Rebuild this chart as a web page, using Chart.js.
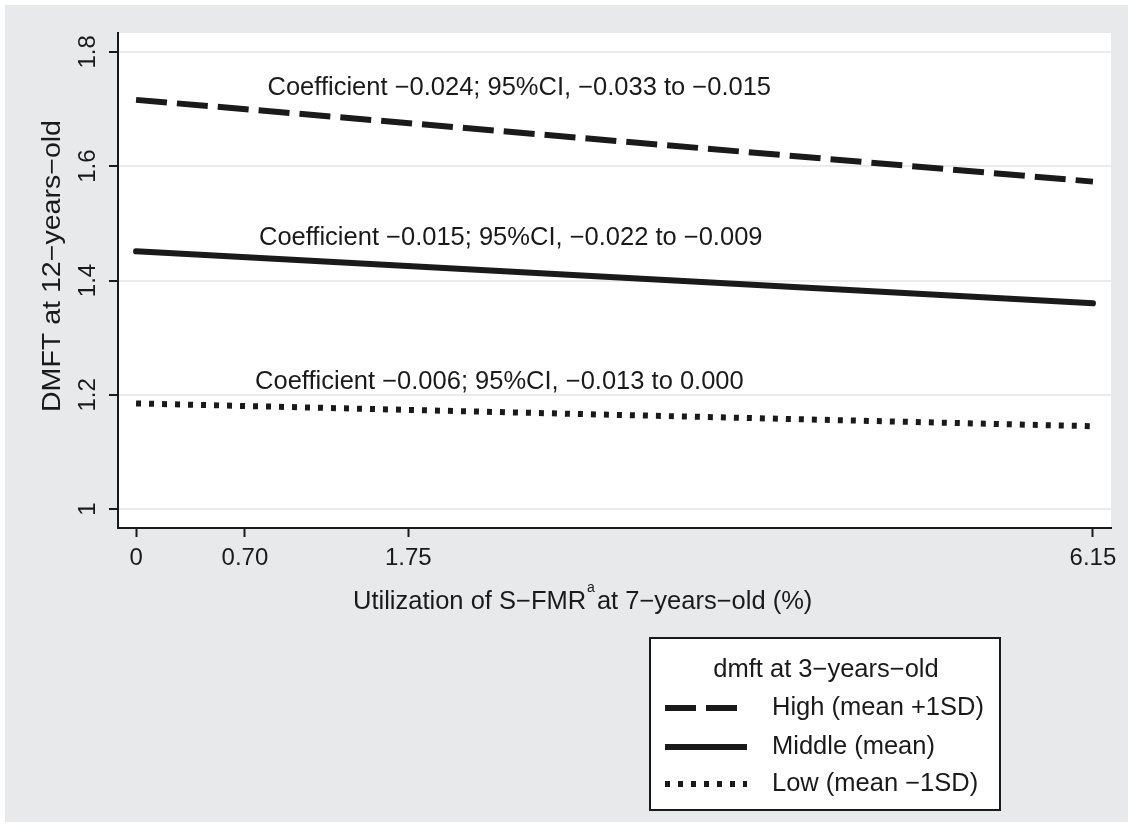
<!DOCTYPE html>
<html>
<head>
<meta charset="utf-8">
<script src="https://cdn.jsdelivr.net/npm/chart.js@4"></script>
<style>
  html, body { margin: 0; padding: 0; background: #fff; }
  canvas { display: block; }
</style>
</head>
<body>
<canvas id="chart" width="1133" height="827"></canvas>
<script>
// values
const xValues = [0, 6.15];
const highValues = [1.716, 1.573];
const middleValues = [1.451, 1.360];
const lowValues = [1.185, 1.145];

const xTicks = [0, 0.70, 1.75, 6.15];
const xTickLabels = ['0', '0.70', '1.75', '6.15'];
const yTicks = [1, 1.2, 1.4, 1.6, 1.8];
const yTickLabels = ['1', '1.2', '1.4', '1.6', '1.8'];

const seriesNames = ['High (mean +1SD)', 'Middle (mean)', 'Low (mean \u22121SD)'];
const legendTitle = 'dmft at 3\u2212years\u2212old';
const coefTexts = [
  'Coefficient \u22120.024; 95%CI, \u22120.033 to \u22120.015',
  'Coefficient \u22120.015; 95%CI, \u22120.022 to \u22120.009',
  'Coefficient \u22120.006; 95%CI, \u22120.013 to 0.000'
];

// where each coefficient note sits, in data units (left edge, middle of text)
const coefSpots = [
  { x: 0.845, y: 1.737 },
  { x: 0.79, y: 1.475 },
  { x: 0.765, y: 1.223 }
];

const FONT = '"Liberation Sans", Arial, sans-serif';
const INK = '#1a1a1a';
const BG = '#e8e9eb';
const TXT = 25.5;

const dashes = [[31, 10], [], [5, 8]];
const legendDashes = [[31, 10], [], [5, 8]];

function pts(ys) {
  return xValues.map((x, i) => ({ x: x, y: ys[i] }));
}

// draw text stretched along its run to a given length
function fitText(ctx, text, x, y, len) {
  const w = ctx.measureText(text).width;
  ctx.save();
  ctx.translate(x, y);
  ctx.scale(len / w, 1);
  ctx.fillText(text, 0, 0);
  ctx.restore();
}

const stataDecor = {
  id: 'stataDecor',
  beforeDraw(chart) {
    const ctx = chart.ctx;
    const a = chart.chartArea;
    ctx.save();
    ctx.fillStyle = '#ffffff';
    ctx.fillRect(0, 0, chart.width, chart.height);
    ctx.fillStyle = BG;
    ctx.fillRect(5, 5, chart.width - 10, chart.height - 10);
    ctx.fillStyle = '#ffffff';
    ctx.fillRect(a.left, a.top, a.right - a.left, a.bottom - a.top);
    ctx.restore();
  },
  afterDraw(chart) {
    const ctx = chart.ctx;
    const xs = chart.scales.x;
    const ys = chart.scales.y;
    ctx.save();
    ctx.fillStyle = INK;

    // x tick labels
    ctx.font = '24px ' + FONT;
    ctx.textAlign = 'center';
    ctx.textBaseline = 'middle';
    xTicks.forEach((v, i) => {
      ctx.fillText(xTickLabels[i], xs.getPixelForValue(v), 558);
    });

    // y tick labels, rotated
    yTicks.forEach((v, i) => {
      ctx.save();
      ctx.translate(88, ys.getPixelForValue(v));
      ctx.rotate(-Math.PI / 2);
      ctx.fillText(yTickLabels[i], 0, 0);
      ctx.restore();
    });

    // y title
    ctx.save();
    ctx.font = '25px ' + FONT;
    ctx.translate(53, 266);
    ctx.rotate(-Math.PI / 2);
    fitText(ctx, 'DMFT at 12\u2212years\u2212old', 0, 0, 292);
    ctx.restore();

    // x title with superscript a
    const p1 = 'Utilization of S\u2212FMR';
    const p2 = 'at 7\u2212years\u2212old (%)';
    ctx.textAlign = 'left';
    ctx.font = TXT + 'px ' + FONT;
    const w1 = ctx.measureText(p1).width;
    const w2 = ctx.measureText(p2).width;
    ctx.font = '14px ' + FONT;
    const wa = ctx.measureText('a').width + 3;
    const tx = 353;
    ctx.font = TXT + 'px ' + FONT;
    ctx.fillText(p1, tx, 602);
    ctx.font = '14px ' + FONT;
    ctx.fillText('a', tx + w1 + 1, 588);
    ctx.font = TXT + 'px ' + FONT;
    ctx.fillText(p2, tx + w1 + wa, 602);

    // coefficient notes
    coefTexts.forEach((t, i) => {
      ctx.fillText(t, xs.getPixelForValue(coefSpots[i].x), ys.getPixelForValue(coefSpots[i].y));
    });

    // legend box
    const bx = 650, by = 638, bw = 350, bh = 172;
    ctx.fillStyle = '#ffffff';
    ctx.fillRect(bx, by, bw, bh);
    ctx.strokeStyle = INK;
    ctx.lineWidth = 2;
    ctx.strokeRect(bx, by, bw, bh);
    ctx.fillStyle = INK;
    ctx.textAlign = 'center';
    ctx.fillText(legendTitle, bx + bw / 2 + 1, 670);
    ctx.textAlign = 'left';
    const rows = [708, 747, 784];
    chart.data.datasets.forEach((ds, i) => {
      const ry = rows[i];
      ctx.save();
      ctx.strokeStyle = INK;
      ctx.lineWidth = 6;
      ctx.lineCap = 'butt';
      ctx.setLineDash(legendDashes[i]);
      ctx.beginPath();
      ctx.moveTo(665, ry);
      ctx.lineTo(i === 0 ? 739 : 747, ry);
      ctx.stroke();
      ctx.restore();
      ctx.fillText(ds.label, 772, ry);
    });

    ctx.restore();
  }
};

const ctx = document.getElementById('chart').getContext('2d');
new Chart(ctx, {
  type: 'line',
  data: {
    datasets: [
      { label: seriesNames[0], data: pts(highValues), borderDash: dashes[0] },
      { label: seriesNames[1], data: pts(middleValues), borderDash: dashes[1], borderCapStyle: 'round' },
      { label: seriesNames[2], data: pts(lowValues), borderDash: dashes[2] }
    ].map(d => Object.assign({
      borderColor: INK,
      borderWidth: 6,
      pointRadius: 0,
      fill: false,
      tension: 0
    }, d))
  },
  options: {
    responsive: false,
    animation: false,
    layout: { padding: { left: 0, top: 33, right: 22, bottom: 0 } },
    plugins: {
      legend: { display: false },
      tooltip: { enabled: false }
    },
    scales: {
      x: {
        type: 'linear',
        min: -0.116,
        max: 6.266,
        afterBuildTicks: s => { s.ticks = xTicks.map(v => ({ value: v })); },
        afterFit: s => { s.height = 299; },
        ticks: { display: false },
        grid: { drawOnChartArea: false, tickLength: 9, tickColor: INK, tickWidth: 2 },
        border: { color: INK, width: 2 }
      },
      y: {
        type: 'linear',
        min: 0.967,
        max: 1.833,
        afterBuildTicks: s => { s.ticks = yTicks.map(v => ({ value: v })); },
        afterFit: s => { s.width = 118; },
        ticks: { display: false },
        grid: { color: '#ebebeb', lineWidth: 2, tickLength: 9, tickColor: INK, tickWidth: 2 },
        border: { color: INK, width: 2 }
      }
    }
  },
  plugins: [stataDecor]
});
</script>
</body>
</html>
